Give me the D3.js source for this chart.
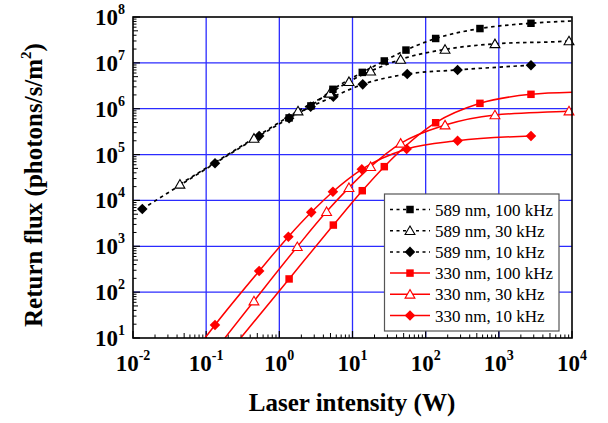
<!DOCTYPE html>
<html><head><meta charset="utf-8">
<script src="https://cdn.jsdelivr.net/npm/d3@7"></script>
<style>
html,body{margin:0;padding:0;background:#fff;}
svg{display:block;}
svg text{font-family:"Liberation Serif","Tinos","Times New Roman","DejaVu Serif",serif;}
</style>
</head><body>
<svg id="chart" width="608" height="423"></svg>
<script>
// ---- data ----
const xTickExps = [-2, -1, 0, 1, 2, 3, 4];
const yTickExps = [1, 2, 3, 4, 5, 6, 7, 8];
const seriesNames = ["589 nm, 100 kHz", "589 nm, 30 kHz", "589 nm, 10 kHz",
                     "330 nm, 100 kHz", "330 nm, 30 kHz", "330 nm, 10 kHz"];

// 589 nm, 100 kHz (squares)
const na100X = [1.36, 2.7, 5.4, 13.6, 27.2, 53.8, 137, 552, 2750];
const na100Y = [6.3e5, 1.15e6, 2.65e6, 6.2e6, 1.1e7, 1.9e7, 3.4e7, 5.6e7, 7.3e7];
const na100End = [1e4, 8.2e7];
// 589 nm, 30 kHz (open triangles)
const na30X = [0.0438, 0.45, 1.8, 4.9, 8.95, 17.7, 45.5, 184, 885, 9100];
const na30Y = [2.25e4, 2.26e5, 8.9e5, 2.17e6, 3.9e6, 6.6e6, 1.19e7, 1.97e7, 2.6e7, 3.0e7];
const na30End = [1e4, 3.05e7];
// 589 nm, 10 kHz (diamonds)
const na10X = [0.0134, 0.132, 0.53, 1.36, 2.68, 5.47, 13.8, 56, 273, 2750];
const na10Y = [6.5e3, 6.45e4, 2.54e5, 6.2e5, 1.1e6, 1.83e6, 3.4e6, 5.7e6, 7.0e6, 8.9e6];

// 330 nm, 100 kHz (squares)
const uv100X = [1.36, 5.47, 13.6, 27.2, 137, 552, 2750];
const uv100Y = [194, 2900, 1.63e4, 5.45e4, 4.95e5, 1.31e6, 2.06e6];
const uv100Start = [0.296, 10];
const uv100End = [1e4, 2.28e6];
// 330 nm, 30 kHz (open triangles)
const uv30X = [0.45, 1.76, 4.43, 8.95, 17.7, 45.5, 184, 885, 9100];
const uv30Y = [64, 980, 5700, 1.9e4, 5.45e4, 1.76e5, 4.4e5, 7.3e5, 8.9e5];
const uv30Start = [0.18, 10];
const uv30End = [1e4, 9.0e5];
// 330 nm, 10 kHz (diamonds)
const uv10X = [0.132, 0.53, 1.33, 2.73, 5.4, 13.4, 55, 273, 2750];
const uv10Y = [19.2, 289, 1620, 5500, 1.55e4, 4.77e4, 1.32e5, 2.0e5, 2.54e5];
const uv10Start = [0.0964, 10];

// ---- layout ----
const svg = d3.select("#chart");
const L = 133, R = 572, T = 17, B = 338;
const x = d3.scaleLog().domain([1e-2, 1e4]).range([L, R]);
const y = d3.scaleLog().domain([10, 1e8]).range([B, T]);
const BLUE = "#2b2bff", RED = "#ff0000";

svg.append("defs").append("clipPath").attr("id", "clip")
  .append("rect").attr("x", L).attr("y", T).attr("width", R - L).attr("height", B - T);

// grid
const g = svg.append("g");
g.selectAll("line.gx").data(xTickExps.slice(1, -1)).join("line")
  .attr("x1", d => x(Math.pow(10, d))).attr("x2", d => x(Math.pow(10, d)))
  .attr("y1", T).attr("y2", B).attr("stroke", BLUE).attr("stroke-width", 1.3);
g.selectAll("line.gy").data(yTickExps.slice(1, -1)).join("line")
  .attr("y1", d => y(Math.pow(10, d))).attr("y2", d => y(Math.pow(10, d)))
  .attr("x1", L).attr("x2", R).attr("stroke", BLUE).attr("stroke-width", 1.3);

// minor/major ticks (inside)
const xMinor = [];
for (let e = -2; e < 4; e++) for (let m = 2; m <= 9; m++) xMinor.push(m * Math.pow(10, e));
const yMinor = [];
for (let e = 1; e < 8; e++) for (let m = 2; m <= 9; m++) yMinor.push(m * Math.pow(10, e));
const isFive = d => Math.abs(d / Math.pow(10, Math.floor(Math.log10(d) + 1e-9)) - 5) < 1e-6;
g.selectAll("line.xm").data(xMinor).join("line")
  .attr("x1", d => x(d)).attr("x2", d => x(d))
  .attr("y1", B).attr("y2", d => B - (isFive(d) ? 5 : 3.5))
  .attr("stroke", "#000").attr("stroke-width", 1);
g.selectAll("line.ym").data(yMinor).join("line")
  .attr("y1", d => y(d)).attr("y2", d => y(d))
  .attr("x1", L).attr("x2", d => L + (isFive(d) ? 5 : 3.5))
  .attr("stroke", "#000").attr("stroke-width", 1);
g.selectAll("line.xM").data(xTickExps).join("line")
  .attr("x1", d => x(Math.pow(10, d))).attr("x2", d => x(Math.pow(10, d)))
  .attr("y1", B).attr("y2", B - 7).attr("stroke", "#000").attr("stroke-width", 1.2);
g.selectAll("line.yM").data(yTickExps).join("line")
  .attr("y1", d => y(Math.pow(10, d))).attr("y2", d => y(Math.pow(10, d)))
  .attr("x1", L).attr("x2", L + 7).attr("stroke", "#000").attr("stroke-width", 1.2);

// series
const series = [
  {name: seriesNames[0], xs: na100X, ys: na100Y, start: null, end: na100End, color: "#000", sym: "square", dash: "3.5,3.5"},
  {name: seriesNames[1], xs: na30X, ys: na30Y, start: null, end: na30End, color: "#000", sym: "triangle", dash: "3.5,3.5"},
  {name: seriesNames[2], xs: na10X, ys: na10Y, start: null, end: null, color: "#000", sym: "diamond", dash: "3.5,3.5"},
  {name: seriesNames[3], xs: uv100X, ys: uv100Y, start: uv100Start, end: uv100End, color: RED, sym: "square", dash: null},
  {name: seriesNames[4], xs: uv30X, ys: uv30Y, start: uv30Start, end: uv30End, color: RED, sym: "triangle", dash: null},
  {name: seriesNames[5], xs: uv10X, ys: uv10Y, start: uv10Start, end: null, color: RED, sym: "diamond", dash: null}
];

const line = d3.line().x(d => x(d[0])).y(d => y(d[1])).curve(d3.curveMonotoneX);
const plot = svg.append("g").attr("clip-path", "url(#clip)");

function symbolPath(sym) {
  if (sym === "square") return d3.symbol(d3.symbolSquare, 56)();
  if (sym === "diamond") return d3.symbol(d3.symbolSquare, 56)();
  return d3.symbol(d3.symbolTriangle, 42)();
}
function drawMarker(sel, s, cx, cy) {
  const p = sel.append("path").attr("d", symbolPath(s.sym));
  if (s.sym === "diamond") p.attr("transform", `translate(${cx},${cy}) rotate(45)`);
  else if (s.sym === "triangle") p.attr("transform", `translate(${cx},${cy + 1})`);
  else p.attr("transform", `translate(${cx},${cy})`);
  if (s.sym === "triangle") p.attr("fill", "#fff").attr("stroke", s.color).attr("stroke-width", 1.1);
  else p.attr("fill", s.color);
}

series.forEach(s => {
  let pts = s.xs.map((v, i) => [v, s.ys[i]]);
  if (s.start) pts.unshift(s.start);
  if (s.end) pts.push(s.end);
  const p = plot.append("path").attr("d", line(pts)).attr("fill", "none")
    .attr("stroke", s.color).attr("stroke-width", s.dash ? 1.7 : 1.5);
  if (s.dash) p.attr("stroke-dasharray", s.dash);
});
series.slice().reverse().forEach(s => {
  const mg = svg.append("g");
  s.xs.forEach((v, i) => drawMarker(mg, s, x(v), y(s.ys[i])));
});

// frame
svg.append("rect").attr("x", L).attr("y", T).attr("width", R - L).attr("height", B - T)
  .attr("fill", "none").attr("stroke", "#000").attr("stroke-width", 1.6);

// tick labels
const xl = svg.append("g").attr("font-weight", "bold");
xTickExps.forEach(e => {
  const t = xl.append("text").attr("x", x(Math.pow(10, e))).attr("y", 371)
    .attr("text-anchor", "middle").attr("font-size", 23);
  t.append("tspan").text("10");
  t.append("tspan").attr("font-size", 14).attr("dy", -11).text(String(e));
});
yTickExps.forEach(e => {
  const t = xl.append("text").attr("x", 125).attr("y", y(Math.pow(10, e)) + 8)
    .attr("text-anchor", "end").attr("font-size", 23);
  t.append("tspan").text("10");
  t.append("tspan").attr("font-size", 14).attr("dy", -11).text(String(e));
});

// axis titles
svg.append("text").attr("x", 352).attr("y", 411).attr("text-anchor", "middle")
  .attr("font-weight", "bold").attr("font-size", 25)
  .text("Laser intensity (W)");
const yt = svg.append("text").attr("transform", "translate(42,185) rotate(-90)")
  .attr("text-anchor", "middle").attr("font-weight", "bold").attr("font-size", 25);
yt.append("tspan").text("Return flux (photons/s/m");
yt.append("tspan").attr("font-size", 15).attr("dy", -11).text("2");
yt.append("tspan").attr("dy", 11).text(")");

// legend
const lg = svg.append("g");
lg.append("rect").attr("x", 384.5).attr("y", 194).attr("width", 174.5).attr("height", 137)
  .attr("fill", "#fff").attr("stroke", "#555").attr("stroke-width", 1.2);
series.forEach((s, i) => {
  const cy = 209.5 + i * 21.2;
  const l = lg.append("line").attr("x1", 390).attr("x2", 430).attr("y1", cy).attr("y2", cy)
    .attr("stroke", s.color).attr("stroke-width", 1.5);
  if (s.dash) l.attr("stroke-dasharray", "3,3.5");
  drawMarker(lg, s, 410, cy);
  lg.append("text").attr("x", 435).attr("y", cy + 6)
    .attr("font-size", 17).attr("fill", "#000").text(s.name);
});
</script>
</body></html>
